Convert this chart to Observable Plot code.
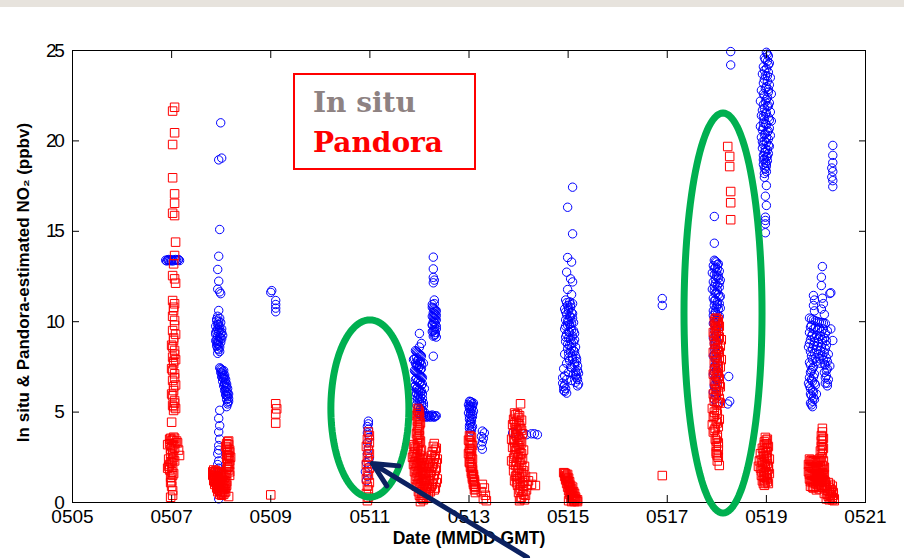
<!DOCTYPE html>
<html>
<head>
<meta charset="utf-8">
<script src="https://cdn.jsdelivr.net/npm/d3@7"></script>
<script src="https://cdn.jsdelivr.net/npm/@observablehq/plot@0.6"></script>
<style>
  body { margin: 0; background: #fff; }
  #wrap { position: relative; width: 904px; height: 558px; overflow: hidden; background: #fff; }
  #band { position: absolute; left: 0; top: 0; width: 904px; height: 7px; background: #e7e3dd; }
  #chart { position: absolute; left: 0; top: 0; }
  #legend { position: absolute; left: 293px; top: 73px; width: 179px; height: 93px; border: 2px solid #ff0000;
            font-family: "DejaVu Serif", serif; font-weight: bold; font-size: 28px; }
  #legend span { position: absolute; left: 18px; line-height: 28px; white-space: nowrap; }
  #chart [aria-label="y-axis tick label"] text { letter-spacing: -2.3px; }
</style>
</head>
<body>
<div id="wrap">
  <div id="chart"></div>
  <div id="band"></div>
  <div id="legend"><span id="lg1"></span><span id="lg2"></span></div>
</div>
<script>
// ---- tick values / labels ----
const xTicks = [5, 7, 9, 11, 13, 15, 17, 19, 21];
const yTicks = [0, 5, 10, 15, 20, 25];
const xTitle = "Date (MMDD GMT)";
const yTitle = "In situ & Pandora-estimated NO\u2082 (ppbv)";
const seriesNames = ["In situ", "Pandora"];
const seriesColors = ["#8e8282", "#ff0000"];

// ---- In situ NO2 [day of May (GMT), ppbv] ----
const insitu = [
  // 0507
  [6.88,13.4],[6.92,13.42],[6.95,13.38],[6.98,13.4],[7.01,13.43],[7.04,13.37],[7.07,13.41],[7.10,13.39],[7.13,13.4],[7.16,13.38],[6.90,13.36],[7.00,13.36],[7.08,13.44],[6.94,13.44],[7.14,13.44],
  // 0508
  [7.99,21.0],[7.95,18.95],[8.01,19.05],[7.97,15.1],[7.95,13.62],[7.93,12.89],[7.95,12.24],[7.93,11.8],[7.97,11.65],[7.99,11.55],[7.95,10.62],
  [7.93,10.3],[7.97,10.2],[7.91,10.05],[7.99,9.95],[7.93,9.85],[7.89,9.75],[7.97,9.7],[8.01,9.6],[7.91,9.5],[7.95,9.45],[7.99,9.35],[7.89,9.3],[7.93,9.2],[7.97,9.15],[8.01,9.05],[7.91,9.0],[7.95,8.9],[7.99,8.85],[7.93,8.75],[7.89,8.95],[7.97,8.6],[7.95,8.45],[7.93,8.25],[8.03,9.25],[7.91,8.8],
  [7.91,10.15],[7.95,10.0],[7.93,9.6],[7.97,9.55],[7.89,9.4],[7.99,9.1],[7.93,8.95],[7.91,8.65],[7.97,8.35],[7.95,9.85],[8.01,9.4],[7.95,8.7],[7.93,8.5],
  [7.97,7.45],[8.01,7.35],[8.05,7.3],[7.99,7.2],[8.03,7.1],[8.07,7.05],[8.01,6.95],[8.05,6.85],[8.09,6.8],[8.03,6.7],[8.07,6.6],[8.11,6.55],[8.05,6.45],[8.09,6.35],[8.13,6.3],[8.07,6.2],[8.11,6.1],[8.15,6.0],[8.09,5.95],[8.13,5.85],[8.11,5.7],[8.15,5.6],[8.13,5.45],[8.11,5.3],
  [7.99,7.4],[8.03,7.25],[8.05,7.0],[8.07,6.9],[8.09,6.65],[8.07,6.5],[8.11,6.4],[8.09,6.15],[8.13,6.05],[8.11,5.9],[8.15,5.75],[8.13,5.55],[8.01,7.15],[8.03,6.9],
  [7.97,5.1],[7.95,4.65],[7.97,4.25],[7.95,3.9],[7.97,3.5],[7.95,3.15],[7.93,2.7],[7.95,2.3],[7.95,1.9],[7.93,1.5],[7.95,0.2],
  [7.95,2.9],[7.93,2.1],[7.95,1.7],[7.93,1.2],[7.95,0.9],
  // 0509
  [9.02,11.72],[9.00,11.62],[9.10,11.17],[9.10,10.95],[9.10,10.75],[9.10,10.55],
  // 0511
  [10.97,4.5],[10.97,4.35],[10.95,4.2],[10.97,4.05],[10.95,3.85],[10.99,3.6],[10.95,3.3],[10.97,3.0],[10.95,2.7],[10.99,2.45],[10.93,2.2],[10.97,1.95],[10.91,1.7],[10.95,1.45],[10.93,1.2],
  // 0512 lower column
  [12.00,9.35],[12.04,8.8],[12.00,8.6],[12.28,8.09],
  [11.92,8.4],[11.96,8.3],[12.00,8.2],[12.04,8.1],[11.94,8.0],[11.98,7.9],[12.02,7.8],[11.92,7.7],[11.96,7.6],[12.00,7.5],[12.04,7.4],[11.90,7.3],[11.94,7.2],[11.98,7.1],[12.02,7.0],[12.06,6.9],[11.92,6.8],[11.96,6.7],[12.00,6.6],[12.04,6.5],[11.90,6.4],[11.94,6.3],[11.98,6.2],[12.02,6.1],[12.06,6.0],[11.92,5.9],[11.96,5.8],[12.00,5.7],[12.04,5.6],[12.08,5.5],[11.94,5.4],[11.98,5.3],[12.02,5.2],[12.06,5.1],[12.10,5.0],[11.96,4.95],[12.00,4.85],[12.04,4.8],[12.08,4.75],[12.12,4.8],[12.16,4.75],[12.20,4.78],[12.24,4.8],[12.28,4.75],[12.32,4.78],[12.34,4.8],[11.88,7.9],[11.90,6.1],[12.08,7.7],[12.10,6.3],
  [11.94,8.35],[11.98,8.25],[12.02,8.15],[11.90,7.95],[11.96,7.85],[12.00,7.75],[12.04,7.65],[11.94,7.55],[11.98,7.45],[12.02,7.35],[11.92,7.25],[11.96,7.15],[12.00,7.05],[12.04,6.95],[11.94,6.85],[11.98,6.75],[12.02,6.65],[12.06,6.55],[11.92,6.45],[11.96,6.35],[12.00,6.25],[12.04,6.15],[11.94,6.05],[11.98,5.95],[12.02,5.85],[12.06,5.75],[11.96,5.65],[12.00,5.55],[12.04,5.45],[12.08,5.35],[11.98,5.25],[12.02,5.15],[12.06,5.05],[12.00,4.95],[12.04,4.9],[12.08,4.85],[12.14,4.72],[12.18,4.82],[12.22,4.72],[12.26,4.84],[12.30,4.72],
  // 0512 upper column
  [12.28,13.57],[12.28,12.92],[12.28,12.45],[12.30,12.3],[12.28,12.15],[12.30,11.2],
  [12.26,10.8],[12.30,10.7],[12.34,10.6],[12.28,10.5],[12.32,10.4],[12.26,10.3],[12.30,10.2],[12.34,10.1],[12.28,10.0],[12.32,9.9],[12.26,9.8],[12.30,9.7],[12.34,9.6],[12.28,9.5],[12.32,9.4],[12.30,9.25],[12.34,9.15],
  [12.28,10.75],[12.32,10.65],[12.30,10.45],[12.34,10.35],[12.28,10.25],[12.32,10.15],[12.30,9.95],[12.26,9.85],[12.34,9.75],[12.30,9.55],[12.26,9.45],[12.32,9.3],[12.28,9.2],[12.30,11.0],[12.26,10.95],
  // 0513
  [13.01,5.6],[13.05,5.55],[13.09,5.5],[12.99,5.4],[13.03,5.35],[13.07,5.3],[13.01,5.2],[13.05,5.1],[13.09,5.05],[12.99,4.95],[13.03,4.85],[13.07,4.75],[13.01,4.6],[13.05,4.5],[13.03,4.35],[13.07,4.2],[13.01,4.1],[13.05,4.0],[13.03,3.9],
  [13.03,5.58],[13.07,5.45],[13.01,5.3],[13.05,5.25],[13.03,5.0],[13.07,4.9],[13.01,4.75],[13.05,4.65],[13.03,4.45],[13.01,4.25],[13.05,4.15],
  [13.27,3.95],[13.31,3.85],[13.25,3.65],[13.29,3.55],[13.27,3.35],[13.25,3.15],[13.27,2.95],
  // 0514
  [14.26,3.8],[14.32,3.8],[14.38,3.75],[14.10,3.8],[14.16,3.75],[13.88,3.85],[13.94,3.8],
  // 0515
  [15.09,17.44],[14.99,16.33],[15.09,14.86],[14.99,13.55],[15.07,13.3],[14.97,12.74],[15.05,12.37],[15.09,12.2],[14.99,11.78],[15.07,11.5],
  [14.95,11.2],[15.03,11.1],[15.09,11.0],[14.99,10.9],[15.05,10.8],[14.93,10.7],[15.01,10.6],[15.07,10.5],[14.97,10.4],[15.03,10.3],[15.09,10.2],[14.95,10.1],[15.01,10.0],[15.07,9.9],[14.99,9.8],[15.05,9.7],[14.93,9.6],[15.11,9.5],[15.03,9.4],[14.97,9.3],[15.09,9.2],[15.01,9.1],[15.13,9.0],[14.95,8.9],[15.07,8.8],[15.03,8.7],[15.15,8.6],[14.99,8.5],[15.11,8.4],[15.05,8.3],[14.93,8.2],[15.15,8.1],[15.01,8.0],[15.09,7.9],[15.17,7.8],[14.97,7.7],[15.13,7.6],[15.05,7.5],[14.91,7.4],[15.19,7.3],[15.01,7.2],[15.11,7.1],[14.93,7.0],[15.17,6.9],[14.97,6.8],[15.07,6.75],[14.89,6.6],[15.21,6.55],[14.91,6.4],[14.95,6.3],[15.19,6.45],[14.93,6.15],[14.97,6.05],[14.89,6.9],[15.15,7.0],[15.15,6.65],
  [14.97,11.05],[15.05,10.95],[15.01,10.75],[14.95,10.55],[15.09,10.45],[15.05,10.25],[14.99,10.05],[15.11,9.95],[15.03,9.85],[14.95,9.75],[15.07,9.55],[15.01,9.45],[15.13,9.35],[14.95,9.15],[15.05,9.05],[15.11,8.85],[14.99,8.75],[15.07,8.55],[15.13,8.35],[15.01,8.25],[15.09,8.05],[15.17,7.95],[15.03,7.85],[15.13,7.75],[15.19,7.55],[15.07,7.45],[15.15,7.25],[15.21,7.15],[15.17,7.05],[15.19,6.8],[14.93,6.5],[14.91,6.2],
  // 0517
  [16.90,11.28],[16.90,10.9],
  // 0518
  [18.28,24.94],[18.28,24.2],[17.95,15.82],[17.95,14.34],
  [17.95,13.4],[17.99,13.3],[18.03,13.2],[17.93,13.1],[17.97,13.0],[18.01,12.9],[18.05,12.8],[17.91,12.7],[17.95,12.6],[17.99,12.5],[18.03,12.4],[18.07,12.3],[17.93,12.2],[17.97,12.1],[18.01,12.0],[18.05,11.9],[17.91,11.8],[17.95,11.7],[17.99,11.6],[18.03,11.5],[18.07,11.4],[17.93,11.3],[17.97,11.2],[18.01,11.1],[18.05,11.0],[17.95,10.9],[17.99,10.8],[18.03,10.7],[17.93,10.6],[17.97,10.5],[18.01,10.4],[18.05,10.3],[17.95,10.2],[17.99,10.1],[18.03,10.0],[17.93,9.9],[17.97,9.8],[18.01,9.7],[17.95,9.5],[17.99,9.3],[17.93,9.1],[17.97,8.9],[18.01,8.7],[17.95,8.5],[17.99,8.3],[17.93,8.1],[17.97,7.9],[18.01,7.7],[17.95,7.5],[17.99,7.3],[17.93,7.1],[17.97,6.9],[18.01,6.7],[17.95,6.5],[17.99,6.3],[17.93,6.1],[17.97,5.9],[17.95,5.7],[17.99,5.5],
  [17.97,13.35],[18.01,13.15],[17.95,12.95],[17.99,12.75],[18.03,12.55],[17.97,12.35],[18.05,12.15],[17.95,11.95],[18.01,11.75],[17.97,11.55],[18.05,11.35],[17.95,11.15],[18.01,10.95],[18.07,10.75],[17.97,10.55],[17.93,10.35],[18.01,10.15],[17.95,9.95],[17.99,9.6],[18.03,9.4],[17.97,9.2],[17.99,9.0],[17.95,8.8],[17.97,8.6],[18.03,8.4],[17.95,8.2],[17.99,8.0],[17.97,7.6],[17.95,7.2],[17.99,6.8],[17.95,6.4],[17.99,6.0],
  [18.24,6.97],[18.26,5.6],[18.22,5.45],
  // 0519
  [19.00,24.9],[19.04,24.7],[18.96,24.6],[19.02,24.4],[19.06,24.3],[18.94,24.1],[19.00,24.0],[19.04,23.8],[18.92,23.7],[18.98,23.6],[19.08,23.5],[19.02,23.3],[18.94,23.2],[19.06,23.1],[18.98,22.9],[18.90,22.8],[19.04,22.7],[19.10,22.6],[18.96,22.5],[19.00,22.3],[18.88,22.2],[19.06,22.1],[18.94,22.0],[19.02,21.9],[18.92,21.7],[19.08,21.6],[18.98,21.5],[18.90,21.4],[19.04,21.3],[18.96,21.2],[19.10,21.1],[18.94,21.0],[19.00,20.9],[18.88,20.8],[19.06,20.7],[18.92,20.6],[19.02,20.5],[18.98,20.4],[19.08,20.3],[18.90,20.2],[19.04,20.1],[18.96,20.0],[19.00,19.9],[18.94,19.8],[19.06,19.7],[18.92,19.6],[19.02,19.5],[18.98,19.4],[19.04,19.3],[18.94,19.2],[19.00,19.1],[18.96,19.0],[19.02,18.9],[18.98,18.8],[18.94,18.7],[19.00,18.6],[18.96,18.5],[19.00,18.3],[18.96,18.2],
  [19.02,24.8],[18.98,24.5],[19.04,24.2],[18.96,23.9],[19.02,23.6],[18.96,23.4],[19.00,23.0],[19.04,22.85],[18.94,22.6],[19.02,22.4],[18.98,22.15],[19.04,21.95],[18.96,21.8],[19.00,21.55],[18.94,21.35],[19.06,21.15],[18.98,20.95],[18.94,20.75],[19.04,20.55],[18.96,20.35],[19.00,20.15],[18.92,19.95],[19.04,19.75],[18.98,19.55],[18.96,19.35],[19.02,19.15],[18.94,18.95],[19.00,18.75],[18.98,18.45],
  [18.96,17.99],[19.00,17.53],[18.98,16.94],[19.00,16.43],[18.98,15.78],[18.98,15.6],[18.98,15.41],[18.98,14.92],
  // 0520
  [20.34,19.75],[20.34,19.2],[20.34,18.8],[20.32,18.5],[20.34,18.3],[20.32,18.0],[20.34,17.8],[20.34,17.47],
  [20.13,13.05],[20.11,12.46],[20.11,12.0],[20.28,11.56],[19.95,11.45],[19.97,11.2],[19.95,10.9],[19.97,10.6],[20.13,11.3],[20.15,11.0],[20.11,10.7],[20.17,10.4],[20.30,11.6],[20.34,8.96],
  [19.87,10.2],[19.95,10.1],[20.03,10.0],[20.11,9.95],[20.19,9.9],[19.91,9.8],[19.99,9.7],[20.07,9.65],[20.15,9.6],[20.23,9.5],[19.87,9.4],[19.93,9.3],[20.01,9.25],[20.09,9.2],[20.17,9.1],[19.89,9.0],[19.97,8.9],[20.05,8.85],[20.13,8.8],[20.21,8.7],[19.85,8.6],[19.93,8.5],[20.01,8.45],[20.09,8.4],[20.17,8.3],[20.25,8.2],[19.91,8.1],[19.99,8.0],[20.07,7.95],[20.15,7.9],[20.23,7.8],[19.87,7.75],
  [19.91,10.15],[19.99,10.05],[20.07,9.98],[20.15,9.92],[19.89,9.7],[19.95,9.6],[20.03,9.55],[20.11,9.45],[20.19,9.35],[19.91,9.2],[19.97,9.1],[20.05,9.05],[20.13,9.0],[20.21,8.95],[19.87,8.8],[19.95,8.7],[20.03,8.65],[20.11,8.6],[20.19,8.5],[19.89,8.35],[19.97,8.25],[20.05,8.2],[20.13,8.1],[20.21,8.0],[19.93,7.9],[20.01,7.8],[20.09,7.7],[20.17,7.65],
  [19.89,7.6],[19.95,7.5],[19.91,7.3],[19.97,7.1],[19.87,6.9],[19.93,6.7],[19.99,6.5],[19.89,6.3],[19.95,6.1],[19.91,5.9],[19.97,5.7],[19.89,5.5],[19.93,5.3],[19.85,6.6],[20.01,6.0],
  [19.93,7.4],[19.89,7.2],[19.95,6.95],[19.91,6.8],[19.97,6.6],[19.87,6.45],[19.93,6.2],[19.89,6.0],[19.95,5.8],[19.93,5.6],[19.91,5.4],
  [20.19,7.6],[20.23,7.4],[20.17,7.2],[20.21,7.0],[20.25,6.8],[20.19,6.6],[20.23,6.45],[20.28,7.55],[20.30,9.6],[20.21,7.3],[20.19,6.9],[20.23,6.6]
];

// ---- Pandora-estimated NO2 [day of May (GMT), ppbv] ----
const pandora = [
  // 0507
  [7.06,21.86],[7.02,21.65],[7.06,20.45],[7.02,19.8],[7.02,17.96],[7.06,17.07],[7.06,16.55],[7.02,16.0],[7.06,15.87],[7.08,14.4],[7.06,13.66],[7.04,13.2],[7.02,12.55],[7.06,12.37],[7.08,12.13],[7.02,11.17],[7.06,10.99],[7.04,10.62],[7.06,10.07],[7.02,9.51],[7.08,9.3],[7.04,8.96],[7.00,8.7],[7.06,8.41],[7.02,8.04],[7.08,7.9],[7.04,7.67],[7.00,7.4],[7.06,7.12],[7.02,6.75],[7.08,6.5],[7.04,6.19],[7.00,6.0],[7.06,5.64],[7.02,5.37],[7.08,5.2],[7.04,5.09],[7.00,4.44],[7.04,3.61],[7.00,3.43],[6.96,3.25],[7.08,3.3],[7.02,2.88],[7.06,3.0],[6.98,2.7],[7.04,2.51],[6.94,2.0],[6.96,1.8],[7.00,2.2],[7.02,1.95],[6.98,1.4],[7.00,1.2],[7.02,0.66],[6.98,0.29],[7.10,3.4],[7.12,3.3],[6.92,3.2],[7.14,2.9],[7.16,2.6],
  [6.96,3.5],[7.00,3.1],[7.04,3.2],[6.98,2.95],[7.02,2.6],[6.94,2.4],[6.98,2.25],[7.02,2.35],[6.96,2.1],[7.00,1.7],[7.02,1.5],[6.98,1.1],[7.00,0.9],[7.02,0.4],[7.04,1.6],[7.06,2.3],[6.92,1.9],[6.98,3.55],[7.02,3.45],[7.06,3.55],
  [7.04,10.8],[7.02,10.3],[7.06,9.8],[7.04,9.1],[7.02,8.6],[7.06,8.2],[7.04,7.8],[7.02,7.3],[7.06,6.9],[7.04,6.4],[7.02,5.9],[7.06,5.5],[7.04,5.3],
  // 0508
  [8.13,3.35],[8.15,3.2],[8.11,3.05],[8.17,2.9],[8.13,2.75],[8.15,2.6],[8.11,2.45],[8.17,2.3],[8.13,2.15],[8.15,2.0],[8.11,1.85],[8.17,1.7],[8.09,3.1],[8.19,2.5],
  [8.15,3.4],[8.11,3.25],[8.13,2.95],[8.17,2.8],[8.15,2.55],[8.11,2.65],[8.13,2.4],[8.17,2.1],[8.13,1.95],[8.15,1.8],[8.11,1.6],[8.17,1.5],
  [7.85,1.8],[7.89,1.75],[7.93,1.7],[7.97,1.65],[8.01,1.6],[8.05,1.55],[8.09,1.5],[7.83,1.5],[7.87,1.45],[7.91,1.4],[7.95,1.35],[7.99,1.3],[8.03,1.25],[8.07,1.2],[8.11,1.15],[7.85,1.2],[7.89,1.1],[7.93,1.05],[7.97,1.0],[8.01,0.95],[8.05,0.9],[8.09,0.85],[7.91,0.8],[7.95,0.7],[7.99,0.65],[8.03,0.6],[8.07,0.55],[7.97,0.45],[8.01,0.4],[8.15,0.33],[8.05,0.75],
  [7.87,1.65],[7.91,1.6],[7.95,1.55],[7.99,1.5],[8.03,1.45],[8.07,1.4],[7.85,1.35],[7.89,1.3],[7.93,1.25],[7.97,1.2],[8.01,1.15],[8.05,1.1],[8.09,1.05],[7.87,1.0],[7.91,0.95],[7.95,0.9],[7.99,0.85],[8.03,0.8],[8.07,0.75],[7.93,0.6],[7.97,0.55],[8.01,0.5],[8.05,0.45],[8.09,0.6],[7.83,1.7],[8.11,0.95],
  // 0509
  [9.10,5.46],[9.12,5.18],[9.10,4.9],[9.10,4.39],[9.00,0.42],
  // 0511
  [10.97,3.9],[10.99,3.7],[10.95,3.5],[10.99,3.3],[10.93,3.1],[10.97,2.9],[10.99,2.7],[10.95,2.5],[10.97,2.3],[10.93,2.1],[10.99,1.9],[10.95,1.7],[10.97,1.5],[10.93,1.3],[10.99,1.1],[10.95,0.9],[10.97,0.7],[10.93,0.5],[10.97,0.3],[10.95,0.1],
  // 0512
  [11.96,5.2],[12.00,5.0],[11.94,4.8],[11.98,4.6],[12.02,4.4],[11.96,4.2],[12.00,4.0],[11.94,3.8],[11.98,3.6],[12.02,3.4],[11.96,3.25],
  [11.98,5.1],[11.96,4.9],[12.00,4.7],[11.96,4.5],[12.00,4.3],[11.98,4.1],[11.96,3.9],[12.00,3.7],[11.96,3.5],[12.00,3.3],
  [11.88,3.2],[11.92,3.0],[11.98,3.1],[12.04,2.9],[11.90,2.8],[11.96,2.7],[12.02,2.6],[12.08,2.5],[11.86,2.5],[11.92,2.4],[11.98,2.3],[12.04,2.2],[12.10,2.1],[11.88,2.1],[11.94,2.0],[12.00,1.9],[12.06,1.8],[12.12,1.7],[11.90,1.7],[11.96,1.6],[12.02,1.5],[12.08,1.4],[12.14,1.3],[11.92,1.3],[11.98,1.2],[12.04,1.1],[12.10,1.0],[12.16,0.9],[11.94,0.9],[12.00,0.8],[12.06,0.7],[12.12,0.6],[12.00,0.4],[12.06,0.2],[12.02,0.05],[12.14,0.3],[12.18,0.5],
  [11.90,3.1],[11.96,2.95],[12.02,2.85],[11.88,2.65],[11.94,2.55],[12.00,2.45],[12.06,2.35],[11.90,2.25],[11.96,2.15],[12.02,2.05],[12.08,1.95],[11.92,1.85],[11.98,1.75],[12.04,1.65],[12.10,1.55],[11.94,1.45],[12.00,1.35],[12.06,1.25],[12.12,1.15],[11.96,1.05],[12.02,0.95],[12.08,0.85],[12.14,0.75],[11.98,0.6],[12.04,0.5],[12.10,0.4],[12.08,0.15],[12.04,0.3],
  [12.30,3.26],[12.34,3.0],[12.26,2.8],[12.32,2.6],[12.36,2.4],[12.22,2.3],[12.28,2.1],[12.34,1.9],[12.24,1.7],[12.30,1.5],[12.36,1.3],[12.20,1.2],[12.26,1.0],[12.32,0.8],[12.22,0.6],[12.18,1.6],[12.16,2.4],[12.14,2.0],
  [12.28,3.1],[12.32,2.9],[12.24,2.6],[12.30,2.45],[12.34,2.2],[12.26,2.0],[12.32,1.8],[12.22,1.5],[12.28,1.3],[12.34,1.1],[12.24,0.9],[12.30,0.7],[12.20,0.8],[12.20,1.9],[12.18,2.2],
  // 0513
  [13.01,3.7],[13.05,3.6],[12.99,3.45],[13.03,3.3],[13.07,3.15],[13.01,3.0],[13.05,2.85],[12.99,2.7],[13.03,2.55],[13.07,2.4],[13.01,2.25],[13.05,2.1],[13.03,1.95],[13.07,1.8],[13.05,1.6],[13.09,1.45],[13.07,1.3],[13.11,1.15],[13.09,1.0],[13.13,0.85],[13.11,0.7],[13.13,0.55],
  [13.03,3.65],[13.01,3.4],[13.05,3.2],[13.03,2.95],[13.01,2.8],[13.05,2.6],[13.03,2.45],[13.01,2.2],[13.05,2.0],[13.07,1.9],[13.05,1.7],[13.09,1.55],[13.07,1.4],[13.11,1.25],[13.09,1.1],[13.11,0.9],[13.13,0.75],
  [13.27,1.0],[13.31,0.8],[13.25,0.6],[13.33,0.4],[13.29,0.2],[13.35,0.1],
  // 0514
  [14.04,5.46],[13.92,4.95],[13.98,4.9],[14.02,4.8],[13.90,4.6],[13.96,4.5],[14.06,4.55],[14.00,4.35],[13.88,4.3],[13.94,4.15],[14.04,4.1],[13.98,3.95],[13.90,3.85],[14.08,3.8],[13.96,3.65],[14.02,3.5],[13.86,3.5],[13.92,3.35],[14.06,3.3],[14.00,3.15],[13.88,3.05],[13.96,2.95],[14.10,2.9],[14.04,2.75],[13.92,2.65],[13.98,2.5],[14.08,2.4],[13.86,2.3],[14.02,2.2],[13.94,2.05],[14.12,2.0],[14.00,1.9],[13.90,1.75],[14.06,1.65],[13.96,1.5],[14.14,1.45],[14.02,1.35],[13.92,1.2],[14.08,1.1],[14.20,1.2],[14.26,1.0],[13.98,0.95],[14.04,0.8],[14.16,0.7],[14.00,0.55],[14.10,0.45],[14.06,0.3],[14.02,0.1],[14.12,0.15],[14.34,0.94],[14.28,1.4],
  [13.94,4.85],[14.00,4.7],[13.92,4.4],[14.02,4.25],[13.96,4.05],[14.06,4.0],[13.94,3.75],[14.00,3.6],[13.90,3.45],[14.04,3.4],[13.98,3.25],[13.92,3.1],[14.02,3.0],[13.94,2.85],[14.06,2.7],[14.00,2.6],[13.90,2.45],[14.04,2.35],[13.96,2.25],[13.90,2.1],[14.06,2.05],[13.98,1.8],[14.10,1.75],[14.02,1.6],[13.94,1.45],[14.08,1.4],[13.98,1.3],[14.12,1.2],[14.04,1.05],[13.96,1.1],[14.10,0.9],[14.02,0.7],[14.08,0.6],[14.14,0.4],[14.04,0.2],[14.18,0.95],
  // 0515
  [14.91,1.65],[14.95,1.6],[14.99,1.55],[14.93,1.45],[14.97,1.4],[15.01,1.35],[14.95,1.25],[14.99,1.2],[15.03,1.15],[14.97,1.05],[15.01,1.0],[15.05,0.95],[14.99,0.85],[15.03,0.8],[15.07,0.75],[15.01,0.65],[15.05,0.6],[15.09,0.55],[15.03,0.45],[15.07,0.4],[15.11,0.35],[15.05,0.25],[15.09,0.2],[15.13,0.15],[15.15,0.3],[15.17,0.1],[15.13,0.5],[15.01,0.1],[15.19,0.05],
  [14.93,1.62],[14.97,1.5],[14.95,1.35],[14.99,1.3],[15.01,1.1],[15.03,0.9],[15.05,0.7],[15.07,0.5],[15.09,0.3],[15.11,0.1],[15.15,0.2],[15.19,0.15],[15.07,0.05],[15.13,0.05],[15.11,0.6],[15.09,0.85],
  // 0517
  [16.90,1.49],
  // 0518
  [18.22,19.69],[18.26,19.14],[18.26,18.58],[18.28,17.2],[18.28,16.58],[18.28,15.64],
  [17.99,10.2],[18.03,10.1],[17.95,10.0],[18.01,9.9],[18.05,9.75],[17.97,9.6],[18.03,9.5],[17.93,9.4],[17.99,9.3],[18.05,9.15],[18.09,9.0],[17.95,8.9],[18.01,8.8],[18.07,8.65],[17.97,8.5],[18.03,8.4],[17.93,8.3],[17.99,8.15],[18.05,8.0],[18.09,7.9],[17.95,7.8],[18.01,7.65],[18.07,7.5],[17.97,7.4],[18.03,7.25],[17.93,7.1],[17.99,7.0],[18.05,6.85],[17.95,6.7],[18.01,6.55],[18.07,6.4],[17.97,6.3],[18.03,6.15],[17.93,6.0],[17.99,5.9],[18.05,5.75],[17.95,5.6],[18.01,5.45],[18.07,5.5],
  [17.97,10.15],[18.01,10.0],[17.97,9.8],[18.03,9.65],[17.99,9.45],[17.95,9.2],[18.03,9.05],[17.97,8.75],[18.01,8.55],[18.05,8.3],[17.97,8.05],[18.01,7.85],[18.03,7.55],[17.95,7.3],[18.01,7.15],[18.03,6.95],[17.97,6.6],[18.05,6.5],[17.99,6.25],[17.95,5.8],[18.03,5.55],
  [17.91,5.2],[17.95,5.0],[18.01,4.9],[17.93,4.7],[17.99,4.5],[18.05,4.6],[17.91,4.3],[17.97,4.1],[18.03,4.2],[17.93,3.9],[18.01,3.7],[17.97,3.5],[18.03,3.3],[17.99,3.1],[18.03,2.9],[17.99,2.7],[18.03,2.5],[18.01,2.3],[18.05,2.05],
  [17.99,5.1],[17.95,4.8],[18.01,4.4],[17.95,4.0],[18.01,3.6],[17.99,3.4],[18.03,3.1],[17.99,2.8],[18.01,2.6],
  // 0519
  [18.98,3.6],[19.02,3.5],[18.96,3.35],[19.00,3.25],[19.04,3.1],[18.92,3.0],[18.98,2.9],[19.02,2.8],[18.88,2.7],[18.94,2.6],[19.00,2.5],[19.06,2.4],[18.86,2.3],[18.92,2.2],[18.98,2.1],[19.04,2.0],[18.88,1.9],[18.94,1.8],[19.00,1.7],[19.06,1.6],[18.90,1.5],[18.96,1.4],[19.02,1.3],[18.92,1.2],[18.98,1.1],[18.96,0.95],[19.04,1.05],[18.84,2.0],
  [19.00,3.45],[18.96,3.2],[19.02,3.05],[18.94,2.85],[19.00,2.75],[18.96,2.55],[19.02,2.45],[18.90,2.35],[18.96,2.25],[19.02,2.15],[18.92,2.05],[18.98,1.95],[19.04,1.85],[18.90,1.75],[18.96,1.65],[19.02,1.55],[18.94,1.45],[19.00,1.35],[18.96,1.25],[19.02,1.15],[18.94,1.05],
  // 0520
  [20.13,4.1],[20.13,3.9],[20.11,3.7],[20.15,3.55],[20.11,3.4],[20.13,3.2],[20.15,3.0],[20.09,2.85],[20.13,2.7],[20.13,3.5],[20.11,3.1],[20.13,2.9],
  [19.87,2.4],[19.91,2.35],[19.95,2.3],[19.99,2.2],[20.03,2.25],[20.07,2.4],[20.11,2.5],[20.15,2.3],[19.85,2.1],[19.89,2.0],[19.93,1.9],[19.97,1.85],[20.01,1.8],[20.05,1.9],[20.09,2.0],[20.13,2.05],[20.17,1.95],[19.85,1.7],[19.89,1.6],[19.93,1.5],[19.97,1.45],[20.01,1.4],[20.05,1.5],[20.09,1.6],[20.13,1.65],[20.17,1.55],[19.87,1.3],[19.91,1.2],[19.95,1.1],[19.99,1.05],[20.03,1.0],[20.07,1.1],[20.11,1.2],[20.15,1.25],[20.19,1.15],[19.89,0.9],[19.95,0.8],[20.01,0.7],[20.07,0.75],[20.13,0.85],[20.19,0.9],
  [19.89,2.3],[19.93,2.25],[19.97,2.3],[20.01,2.2],[20.05,2.3],[20.09,2.3],[19.87,2.0],[19.91,1.95],[19.95,1.9],[19.99,1.95],[20.03,1.85],[20.07,1.75],[20.11,1.8],[20.15,1.85],[19.87,1.55],[19.91,1.5],[19.95,1.55],[19.99,1.6],[20.03,1.55],[20.07,1.45],[20.11,1.4],[20.15,1.5],[19.89,1.15],[19.93,1.2],[19.97,1.25],[20.01,1.2],[20.05,1.15],[20.09,1.25],[20.13,1.3],[20.17,1.2],[19.93,0.85],[19.99,0.9],[20.05,0.85],[20.11,0.95],[20.17,0.8],
  [20.25,1.1],[20.29,1.0],[20.33,0.9],[20.23,0.7],[20.27,0.6],[20.31,0.5],[20.35,0.4],[20.25,0.35],[20.29,0.25],[20.33,0.15],[20.37,0.1],[20.21,0.2],[20.17,0.5],
  [20.21,0.95],[20.27,0.8],[20.31,0.7],[20.35,0.55],[20.29,0.4],[20.33,0.3],[20.37,0.2],[20.23,0.45],[20.27,0.15]
];

// ---- annotations (data units) ----
const ellipseCenters = [[11.0, 5.2], [18.125, 10.48]];
const ellipseRadii = [[0.787, 4.9], [0.787, 11.06]];
const arrowFrom = [14.18, -3.04];
const arrowTo = [11.05, 2.16];

// ellipse outlines sampled in data coordinates
const ellipsePts = [];
ellipseCenters.forEach(([cx, cy], k) => {
  const [rx, ry] = ellipseRadii[k];
  for (let i = 0; i < 120; i++) {
    const t = (i / 120) * 2 * Math.PI;
    ellipsePts.push({id: k, x: cx + rx * Math.cos(t), y: cy + ry * Math.sin(t)});
  }
});

const fmtDate = d => "05" + String(d).padStart(2, "0");

const chart = Plot.plot({
  width: 904,
  height: 558,
  marginLeft: 72,
  marginRight: 39,
  marginTop: 50,
  marginBottom: 56,
  style: {fontFamily: "'Liberation Sans', Arial, sans-serif", fontSize: "19px", color: "#000", background: "transparent", overflow: "visible"},
  x: {domain: [5, 21]},
  y: {domain: [0, 25]},
  marks: [
    Plot.dot(insitu, {x: d => d[0], y: d => d[1], r: 4.2, stroke: "#0000ff", strokeWidth: 1, fill: "none"}),
    Plot.dot(pandora, {x: d => d[0], y: d => d[1], symbol: "square", r: 4.8, stroke: "#ff0000", strokeWidth: 1, fill: "none"}),
    Plot.frame({stroke: "#000", strokeWidth: 1}),
    Plot.axisX(xTicks, {anchor: "bottom", tickSize: -7, tickPadding: 14, tickFormat: fmtDate, label: null}),
    Plot.axisX(xTicks, {anchor: "top", tickSize: -7, tickFormat: () => "", label: null}),
    Plot.axisY(yTicks, {anchor: "left", tickSize: -7, tickPadding: 17, label: null}),
    Plot.axisY(yTicks, {anchor: "right", tickSize: -7, tickFormat: () => "", label: null}),
    Plot.text([xTitle], {frameAnchor: "bottom", dy: 36, fontWeight: "bold", fontSize: 17.5, lineAnchor: "middle", textAnchor: "middle"}),
    Plot.text([yTitle], {frameAnchor: "left", dx: -49, dy: 6, rotate: -90, fontWeight: "bold", fontSize: 17, lineAnchor: "middle", textAnchor: "middle"}),
    Plot.line(ellipsePts, {x: "x", y: "y", z: "id", stroke: "#00b050", strokeWidth: 7, curve: "linear-closed"}),
    Plot.arrow([{x1: arrowFrom[0], y1: arrowFrom[1], x2: arrowTo[0], y2: arrowTo[1]}],
      {x1: "x1", y1: "y1", x2: "x2", y2: "y2", stroke: "#0b2160", strokeWidth: 5, headAngle: 52, headLength: 8})
  ]
});
document.getElementById("chart").append(chart);

const lg1 = document.getElementById("lg1");
lg1.textContent = seriesNames[0]; lg1.style.color = seriesColors[0]; lg1.style.top = "14px";
const lg2 = document.getElementById("lg2");
lg2.textContent = seriesNames[1]; lg2.style.color = seriesColors[1]; lg2.style.top = "54px";
</script>
</body>
</html>
